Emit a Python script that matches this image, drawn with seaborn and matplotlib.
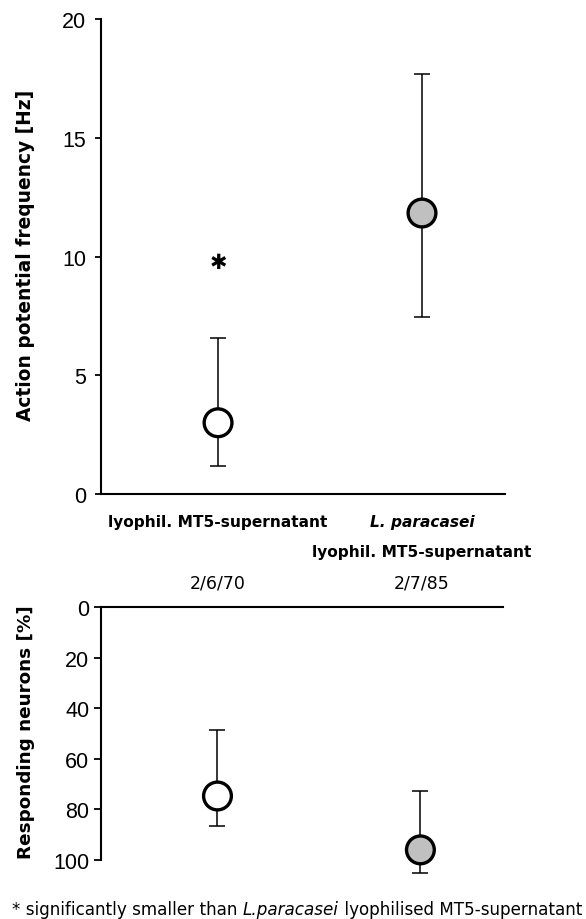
import matplotlib
matplotlib.use("Agg")
import matplotlib.pyplot as plt
import seaborn as sns
import pandas as pd
import numpy as np

# ---- data ----
groups = ["lyophil. MT5-supernatant", "L. paracasei lyophil. MT5-supernatant"]
fill_colors = ["#ffffff", "#c0c0c0"]
freq_mean = [3.0, 11.83]
freq_low = [1.18, 7.45]
freq_high = [6.57, 17.7]
resp_mean = [74.7, 96.0]
resp_low = [48.6, 72.7]
resp_high = [86.6, 105.0]
n_labels = ["2/6/70", "2/7/85"]
freq_ticks = [0, 5, 10, 15, 20]
resp_ticks = [0, 20, 40, 60, 80, 100]
star_value = 9.77

sns.set_theme(style="white")
plt.rcParams["font.family"] = ["DejaVu Sans"]

df = pd.DataFrame({
    "pos": np.arange(len(groups)),
    "group": groups,
    "freq": freq_mean,
    "resp": resp_mean,
})

fig = plt.figure(figsize=(5.86, 9.2), dpi=100)
W, H = 586, 920
ax1 = fig.add_axes([101 / W, (H - 495) / H, 404 / W, 475 / H])
ax2 = fig.add_axes([101 / W, (H - 861) / H, 402 / W, 253 / H])

xlim = (-0.574, 1.407)
tick_font = dict(family="Liberation Sans", size=15.5)


def draw(ax, col, low, high):
    m = np.array(df[col])
    yerr = [m - np.array(low), np.array(high) - m]
    eb = ax.errorbar(df["pos"], m, yerr=yerr, fmt="none", ecolor="black",
                     elinewidth=1.1, capsize=5.5, capthick=1.1, zorder=2)
    for art in eb.lines[1] + eb.lines[2]:
        art.set_clip_on(False)
    sns.scatterplot(data=df, x="pos", y=col, hue="group", palette=fill_colors,
                    s=400, edgecolor="black", linewidth=2.4, legend=False,
                    ax=ax, zorder=3, clip_on=False)
    ax.set_xlim(*xlim)
    ax.set_xticks([])
    ax.set_xlabel("")


# ---- top panel ----
draw(ax1, "freq", freq_low, freq_high)
ax1.set_ylim(0, 20)
ax1.set_yticks(freq_ticks)
ax1.set_yticklabels([str(t) for t in freq_ticks], fontdict=tick_font)
for s in ["top", "right"]:
    ax1.spines[s].set_visible(False)
for s in ["left", "bottom"]:
    ax1.spines[s].set_color("black")
    ax1.spines[s].set_linewidth(1.5)
ax1.tick_params(axis="y", direction="out", length=4.5, width=1.3, pad=6,
                colors="black", left=True)
ax1.set_ylabel("Action potential frequency [Hz]", fontsize=13.4,
               fontweight="bold", color="black")
ax1.yaxis.set_label_coords(-0.163, 0.505)
ax1.text(df["pos"][0], star_value, "\u2731", ha="center", va="center",
         fontsize=15, color="black")

tr = ax1.get_xaxis_transform()
lab_kw = dict(ha="center", va="center", fontsize=11.1, fontweight="bold",
              color="black", transform=tr)
ax1.text(0, (495 - 522) / 475, groups[0], **lab_kw)
ax1.text(1, (495 - 522) / 475, "L. paracasei", style="italic", **lab_kw)
ax1.text(1, (495 - 552) / 475, "lyophil. MT5-supernatant", **lab_kw)
for i, lab in enumerate(n_labels):
    ax1.text(i, (495 - 584) / 475, lab, ha="center", va="center",
             fontsize=12.5, color="black", transform=tr)

# ---- bottom panel ----
draw(ax2, "resp", resp_low, resp_high)
ax2.set_ylim(100, 0)
ax2.set_yticks(resp_ticks)
ax2.set_yticklabels([str(t) for t in resp_ticks], fontdict=tick_font)
for s in ["bottom", "right"]:
    ax2.spines[s].set_visible(False)
for s in ["left", "top"]:
    ax2.spines[s].set_color("black")
    ax2.spines[s].set_linewidth(1.5)
ax2.tick_params(axis="y", direction="out", length=5, width=1.3, pad=3.5,
                colors="black", left=True)
ax2.set_ylabel("Responding neurons [%]", fontsize=13.2, fontweight="bold",
               color="black")
ax2.yaxis.set_label_coords(-0.163, 0.508)

# ---- footnote ----
fkw = dict(fontsize=12.1, color="black")
t1 = fig.text(12 / W, (H - 910) / H, "* significantly smaller than ",
              ha="left", va="center", **fkw)
t2 = ax2.annotate("L.paracasei", xy=(1, 0), xycoords=t1, ha="left",
                  va="bottom", style="italic", annotation_clip=False, **fkw)
t3 = ax2.annotate(" lyophilised MT5-supernatant", xy=(1, 0), xycoords=t2,
                  ha="left", va="bottom", annotation_clip=False, **fkw)

fig.savefig("out.png", dpi=100, facecolor="white")
